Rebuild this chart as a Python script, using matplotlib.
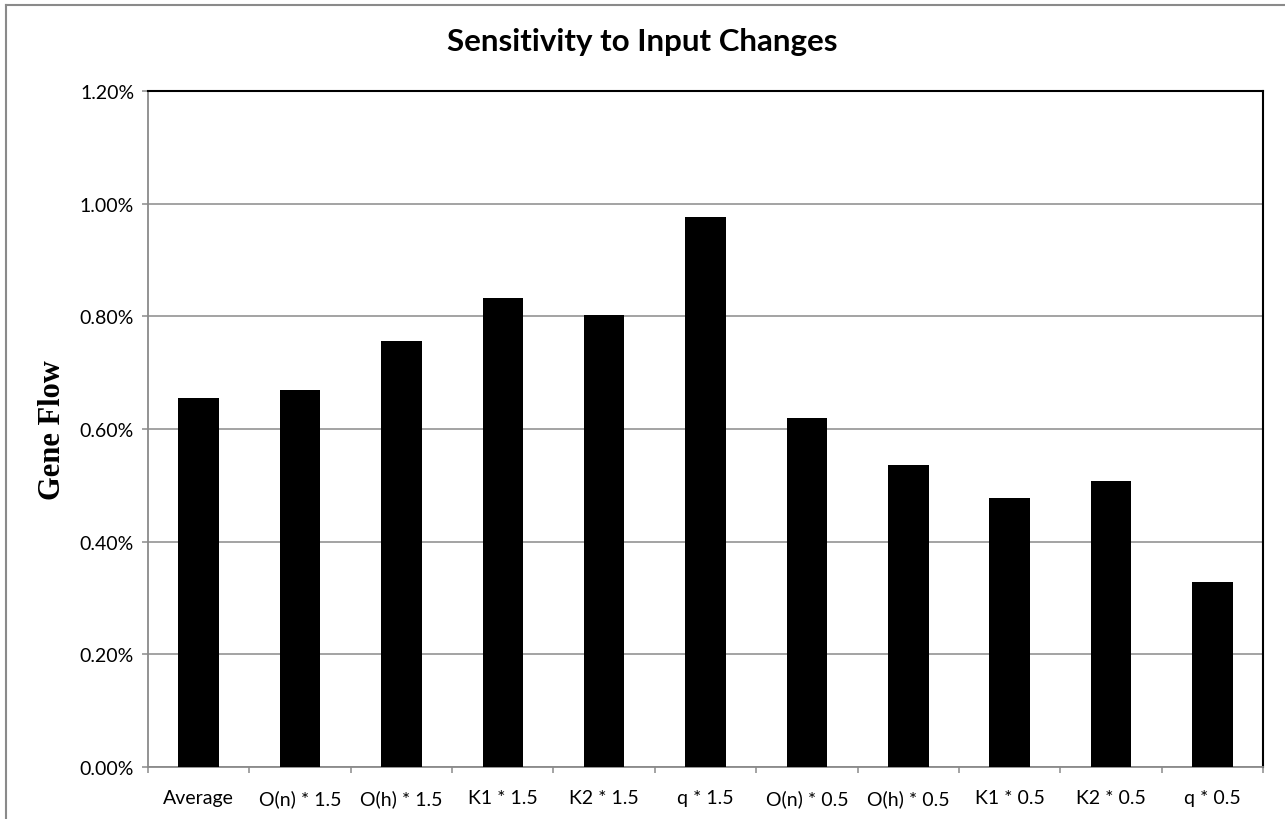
import matplotlib
matplotlib.use("Agg")
import matplotlib.pyplot as plt
from matplotlib.lines import Line2D
from matplotlib.ticker import FuncFormatter, FixedLocator

categories = ["Average", "O(n) * 1.5", "O(h) * 1.5", "K1 * 1.5", "K2 * 1.5", "q * 1.5",
              "O(n) * 0.5", "O(h) * 0.5", "K1 * 0.5", "K2 * 0.5", "q * 0.5"]
gene_flow = [0.655, 0.670, 0.756, 0.8325, 0.803, 0.977, 0.620, 0.536, 0.477, 0.507, 0.329]  # percent
y_ticks = [0.0, 0.2, 0.4, 0.6, 0.8, 1.0, 1.2]

fig = plt.figure(figsize=(12.85, 8.2), dpi=100)
ax = fig.add_axes([148/1285, 1-768/820, (1263-148)/1285, (768-92)/820])

x = list(range(len(categories)))
ax.bar(x, gene_flow, width=0.4, color="black", zorder=3)

ax.set_xlim(-0.5, len(categories) - 0.5)
ax.set_ylim(0, 1.2)
ax.yaxis.set_major_locator(FixedLocator(y_ticks))
ax.yaxis.set_major_formatter(FuncFormatter(lambda v, p: f"{v:.2f}%"))
ax.grid(axis="y", color="#8a8a8a", linewidth=1.1, zorder=0)

# x ticks at category boundaries, labels at centers
ax.xaxis.set_major_locator(FixedLocator([i - 0.5 for i in range(len(categories) + 1)]))
ax.xaxis.set_major_formatter(FuncFormatter(lambda v, p: ""))
ax.xaxis.set_minor_locator(FixedLocator(x))
ax.set_xticklabels(categories, minor=True)
ax.tick_params(axis="x", which="major", direction="out", length=4, color="#8a8a8a", width=1.1)
ax.tick_params(axis="x", which="minor", length=0, pad=16, labelsize=14)
ax.tick_params(axis="y", direction="out", length=4, color="#8a8a8a", width=1.1, labelsize=14, pad=6)
for lbl in ax.get_xticklabels(minor=True) + ax.get_yticklabels():
    lbl.set_fontfamily("Lato")

ax.spines["left"].set_color("#8a8a8a")
ax.spines["bottom"].set_color("#8a8a8a")
ax.spines["left"].set_linewidth(1.3)
ax.spines["bottom"].set_linewidth(1.3)
ax.spines["top"].set_color("black")
ax.spines["right"].set_color("black")
ax.spines["top"].set_linewidth(1.5)
ax.spines["right"].set_linewidth(1.5)

fig.text(0.5, 1 - 42/820, "Sensitivity to Input Changes", ha="center", va="center",
         fontsize=22.5, fontweight="bold", fontfamily="Lato")
fig.text(52/1285, 1 - 430/820, "Gene Flow", rotation=90, ha="center", va="center",
         fontsize=22, fontweight="bold", fontfamily="Liberation Serif")

# outer chart frame (only top/left visible)
fig.add_artist(Line2D([6/1285, 6/1285], [0, 1 - 6/820], transform=fig.transFigure, color="#8a8a8a", lw=1.5))
fig.add_artist(Line2D([6/1285, 1], [1 - 6/820, 1 - 6/820], transform=fig.transFigure, color="#8a8a8a", lw=1.5))

fig.savefig("out.png", dpi=100)
